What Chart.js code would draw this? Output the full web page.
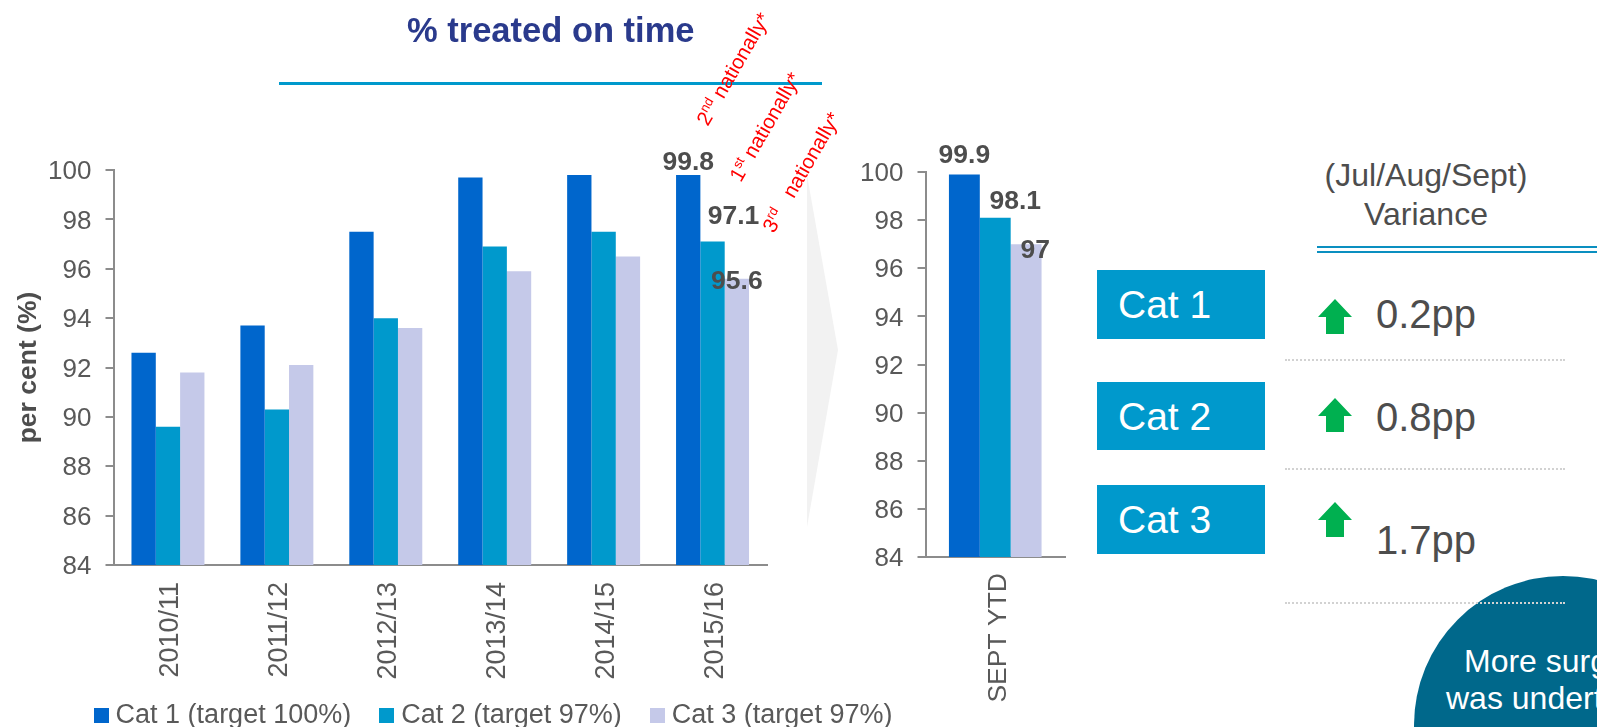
<!DOCTYPE html>
<html>
<head>
<meta charset="utf-8">
<title>% treated on time</title>
<script src="https://cdn.jsdelivr.net/npm/chart.js@4"></script>
<style>
  html, body { margin: 0; padding: 0; background: #fff; }
  #stage { position: relative; width: 1597px; height: 727px; overflow: hidden; font-family: "Liberation Sans", Arial, sans-serif; color: #4d4d4d; }
  #stage canvas { position: absolute; top: 0; }
  .txt { position: absolute; white-space: pre; }
  .rule { position: absolute; }
  .cat { position: absolute; left: 1097px; width: 168px; background: #0099cc; color: #fff; font-size: 39px; line-height: 69px; text-indent: 21px; }
  .pp { position: absolute; left: 1376px; font-size: 40px; line-height: 46px; }
  .dots { position: absolute; left: 1285px; width: 280px; border-top: 2px dotted #d2d2d2; }
  .rank { position: absolute; color: #ff0000; font-size: 20.5px; line-height: 26px; white-space: pre; transform-origin: 0 100%; transform: rotate(-60deg); }
  .rank sup { font-size: 13px; line-height: 0; }
  .blob { position: absolute; color: #fff; font-size: 32px; line-height: 37px; white-space: pre; }
  svg { position: absolute; left: 0; top: 0; }
</style>
</head>
<body>
<div id="stage">
  <svg width="1597" height="727">
    <polygon points="807,175 838,350 807,527" fill="#f2f2f2"/>
    <circle cx="1563" cy="725" r="149" fill="#00688b"/>
    <polygon points="1335,299 1352,317 1344,317 1344,334 1326,334 1326,317 1318,317" fill="#00b050"/>
    <polygon points="1335,398 1352,416 1344,416 1344,432 1326,432 1326,416 1318,416" fill="#00b050"/>
    <polygon points="1335,502 1352,520 1344,520 1344,537 1326,537 1326,520 1318,520" fill="#00b050"/>
  </svg>

  <canvas id="graficoAnual" width="1015" height="739"></canvas>
  <canvas id="graficoSept" width="210" height="727" style="left:860px"></canvas>

  <div class="txt" style="left:407px;top:11px;font-size:34.5px;font-weight:bold;color:#2a3a8c">% treated on time</div>
  <div class="rule" style="left:279px;top:82px;width:543px;height:2.5px;background:#0099cc"></div>

  <div class="rank" style="left:713px;top:104px">2<sup>nd</sup> nationally*</div>
  <div class="rank" style="left:746px;top:160px">1<sup>st</sup> nationally*</div>
  <div class="rank" style="left:779px;top:211px">3<sup>rd</sup>   nationally*</div>

  <div class="txt" style="left:1226px;top:156px;width:400px;text-align:center;font-size:32px;line-height:39px">(Jul/Aug/Sept)
Variance</div>
  <div class="rule" style="left:1317px;top:246px;width:280px;height:2px;background:#0a8fc0"></div>
  <div class="rule" style="left:1317px;top:251px;width:280px;height:2px;background:#0a8fc0"></div>

  <div class="cat" style="top:270px">Cat 1</div>
  <div class="cat" style="top:382px;height:68px">Cat 2</div>
  <div class="cat" style="top:485px">Cat 3</div>

  <div class="pp" style="top:291px">0.2pp</div>
  <div class="pp" style="top:394px">0.8pp</div>
  <div class="pp" style="top:517px">1.7pp</div>

  <div class="dots" style="top:359px"></div>
  <div class="dots" style="top:468px"></div>
  <div class="dots" style="top:602px"></div>

  <div class="blob" style="left:1464px;top:643px">More surgery</div>
  <div class="blob" style="left:1446px;top:680px">was undertaken</div>
</div>

<script>
// Datos
const temporadas = ["2010/11", "2011/12", "2012/13", "2013/14", "2014/15", "2015/16"];
const cat1Anual = [92.6, 93.7, 97.5, 99.7, 99.8, 99.8];
const cat2Anual = [89.6, 90.3, 94.0, 96.9, 97.5, 97.1];
const cat3Anual = [91.8, 92.1, 93.6, 95.9, 96.5, 95.6];
const periodoSept = ["SEPT YTD"];
const cat1Sept = [99.9];
const cat2Sept = [98.1];
const cat3Sept = [97];
const ticksY = [84, 86, 88, 90, 92, 94, 96, 98, 100];

const colores = ["#0066cc", "#0099cc", "#c5c9e9"];
const nombres = ["Cat 1 (target 100%)", "Cat 2 (target 97%)", "Cat 3 (target 97%)"];
const fuente = '"Liberation Sans", Arial, sans-serif';

Chart.defaults.font.family = fuente;
Chart.defaults.animation = false;

// cuadradito de la leyenda
function marcador(color) {
    const c = document.createElement("canvas");
    c.width = 15;
    c.height = 15;
    const g = c.getContext("2d");
    g.fillStyle = color;
    g.fillRect(0, 0, 15, 15);
    return c;
}

// etiquetas de valor: solo en los puntos indicados, con su desplazamiento
const etiquetas = {
    id: "etiquetas",
    afterDatasetsDraw(chart, args, opts) {
        const ctx = chart.ctx;
        ctx.save();
        ctx.font = 'bold 26.5px ' + fuente;
        ctx.fillStyle = "#4d4d4d";
        ctx.textAlign = "center";
        ctx.textBaseline = "alphabetic";
        opts.puntos.forEach(p => {
            const bar = chart.getDatasetMeta(p.serie).data[p.indice];
            const valor = chart.data.datasets[p.serie].data[p.indice];
            ctx.fillText(String(valor), bar.x + p.dx, bar.y + p.dy);
        });
        ctx.restore();
    }
};

function escalas(anchoY, altoX, pad, tamX) {
    return {
        x: {
            grid: { display: false },
            border: { color: "#8c8c8c", width: 2 },
            ticks: { color: "#595959", font: { size: tamX }, minRotation: 90, maxRotation: 90, padding: pad, labelOffset: 3 },
            afterFit: s => { s.height = altoX; }
        },
        y: {
            min: 84,
            max: 100,
            afterBuildTicks: s => { s.ticks = ticksY.map(v => ({ value: v })); },
            grid: { drawOnChartArea: false, color: "#8c8c8c", lineWidth: 2, tickLength: 8 },
            border: { color: "#8c8c8c", width: 2 },
            ticks: { color: "#595959", font: { size: 26 }, padding: 14, labelOffset: 2 },
            afterFit: s => { s.width = anchoY; }
        }
    };
}

function series(a, b, c, ancho) {
    return [a, b, c].map((d, i) => ({
        label: nombres[i],
        data: d,
        backgroundColor: colores[i],
        categoryPercentage: ancho,
        barPercentage: 1
    }));
}

// ====================
// Gráfico anual
// ====================
const escalasAnual = escalas(113.5, 125, 9, 27);
escalasAnual.y.title = {
    display: true,
    text: "per cent (%)",
    color: "#4d4d4d",
    font: { size: 26.5, weight: "bold" },
    padding: { top: 13, bottom: 0 }
};
// eje vacío a la derecha: deja sitio a la leyenda, que es más ancha que el área del gráfico
escalasAnual.margen = {
    type: "linear",
    position: "right",
    axis: "y",
    grid: { display: false },
    border: { display: false },
    ticks: { display: false },
    afterFit: s => { s.width = 248; }
};
new Chart(document.getElementById("graficoAnual"), {
    type: "bar",
    data: { labels: temporadas, datasets: series(cat1Anual, cat2Anual, cat3Anual, 0.67) },
    options: {
        responsive: false,
        layout: { padding: { top: 170 } },
        scales: escalasAnual,
        plugins: {
            tooltip: { enabled: false },
            legend: {
                position: "bottom",
                labels: {
                    color: "#595959",
                    font: { size: 27 },
                    usePointStyle: true,
                    pointStyleWidth: 2,
                    padding: 12,
                    // los espacios finales separan las entradas sin subir el padding vertical
                    generateLabels: chart => chart.data.datasets.map((d, i) => ({
                        text: d.label + "   ",
                        fontColor: "#595959",
                        pointStyle: marcador(colores[i]),
                        datasetIndex: i
                    }))
                }
            },
            etiquetas: {
                puntos: [
                    { serie: 0, indice: 5, dx: 0, dy: -5 },
                    { serie: 1, indice: 5, dx: 21, dy: -18 },
                    { serie: 2, indice: 5, dx: 0, dy: 10 }
                ]
            }
        }
    },
    plugins: [etiquetas]
});

// ====================
// Gráfico septiembre
// ====================
new Chart(document.getElementById("graficoSept"), {
    type: "bar",
    data: { labels: periodoSept, datasets: series(cat1Sept, cat2Sept, cat3Sept, 0.664) },
    options: {
        responsive: false,
        layout: { padding: { top: 172, right: 5 } },
        scales: escalas(65.5, 170, 8, 26.5),
        plugins: {
            tooltip: { enabled: false },
            legend: { display: false },
            etiquetas: {
                puntos: [
                    { serie: 0, indice: 0, dx: 0, dy: -11 },
                    { serie: 1, indice: 0, dx: 20, dy: -9 },
                    { serie: 2, indice: 0, dx: 9, dy: 14 }
                ]
            }
        }
    },
    plugins: [etiquetas]
});
</script>
</body>
</html>
